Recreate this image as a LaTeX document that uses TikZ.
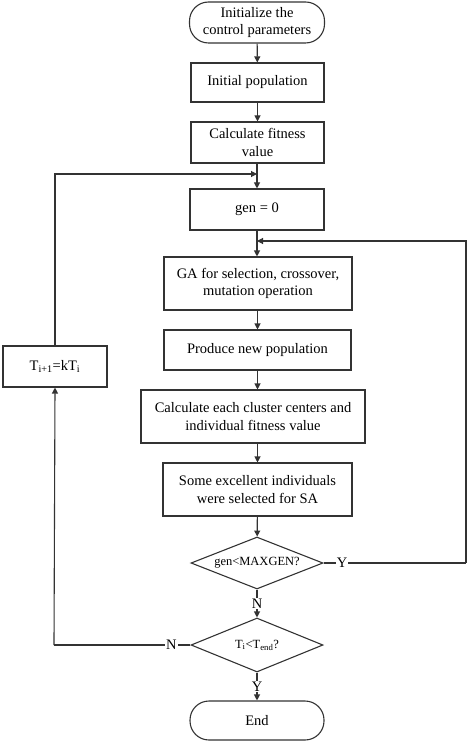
\documentclass[tikz,border=0pt]{standalone}
\usepackage{fontspec}
\setmainfont{Liberation Serif}
\usetikzlibrary{positioning}
\usetikzlibrary{shapes.geometric}
\usetikzlibrary{arrows.meta}
\tikzset{
    line/.style = {draw=black!80, line width=1.1pt},
    flow/.style = {line, -{Triangle[length=6pt,width=6pt]}},
    box/.style = {shape=rectangle, draw=black!80, line width=1.1pt, inner sep=0, align=center, font=\fontsize{14.5}{17.5}\selectfont},
    term/.style = {box, rounded corners=19pt},
    decision/.style = {shape=diamond, draw=black!80, line width=1.1pt, inner sep=0, aspect=2.5, font=\fontsize{12.5}{15}\selectfont},
    yn/.style = {fill=white, inner sep=1pt, font=\fontsize{14.5}{17}\selectfont}
}

\begin{document}
\begin{tikzpicture}[x=1pt,y=-1pt]
    \useasboundingbox (0,0) rectangle (469,743);
    % main column
    \node(start)[term, minimum width=135, minimum height=41] at (257,22.5) {Initialize the\\control parameters};
    \node(init)[box, minimum width=133, minimum height=39] at (257.5,82.5) {Initial population};
    \node(fit)[box, minimum width=133, minimum height=41] at (257.5,142.5) {Calculate fitness\\value};
    \node(gen0)[box, minimum width=134, minimum height=41] at (257,209.5) {gen = 0};
    \node(ga)[box, minimum width=188, minimum height=53] at (258,283.5) {GA for selection, crossover,\\mutation operation};
    \node(prod)[box, minimum width=187, minimum height=40] at (257.5,350) {Produce new population};
    \node(calc)[box, minimum width=224, minimum height=53] at (253,416.5) {Calculate each cluster centers and\\individual fitness value};
    \node(sa)[box, minimum width=189, minimum height=53] at (257.5,489.5) {Some excellent individuals\\were selected for SA};
    \node(d1)[decision, minimum width=132, minimum height=52] at (257,563) {gen<MAXGEN?};
    \node(d2)[decision, minimum width=132, minimum height=54] at (257,645) {T\textsubscript{i}<T\textsubscript{end}?};
    \node(end)[term, minimum width=134, minimum height=39] at (257,720.5) {End};
    % temperature update
    \node(upd)[box, minimum width=104, minimum height=41] at (55,366.5) {T\textsubscript{i+1}=kT\textsubscript{i}};
    % junctions
    \coordinate(j1) at (257,174);
    \coordinate(j2) at (257,241);
    \coordinate(rt) at (466,563);
    \coordinate(lf) at (54,645);

    \draw[flow] (start) -- (init);
    \draw[flow] (init) -- (fit);
    \draw[flow] (fit.south -| gen0) -- (gen0);
    \draw[flow] (gen0) -- (ga.north -| gen0);
    \draw[flow] (ga.south -| prod) -- (prod);
    \draw[flow] (prod) -- (prod |- calc.north);
    \draw[flow] (sa |- calc.south) -- (sa);
    \draw[flow] (sa) -- (d1);
    \draw[flow] (d1) -- node[yn]{N} (d2);
    \draw[flow] (d2) -- node[yn]{Y} (end);
    % loops
    \draw[line] (d1.east) -- node[yn, pos=0.13]{Y} (rt);
    \draw[flow] (rt) |- (j2);
    \draw[line] (d2.west) -- node[yn, pos=0.14]{N} (lf);
    \draw[flow] (lf) -- (upd.south);
    \draw[flow] (upd.north) |- (j1);
\end{tikzpicture}
\end{document}
